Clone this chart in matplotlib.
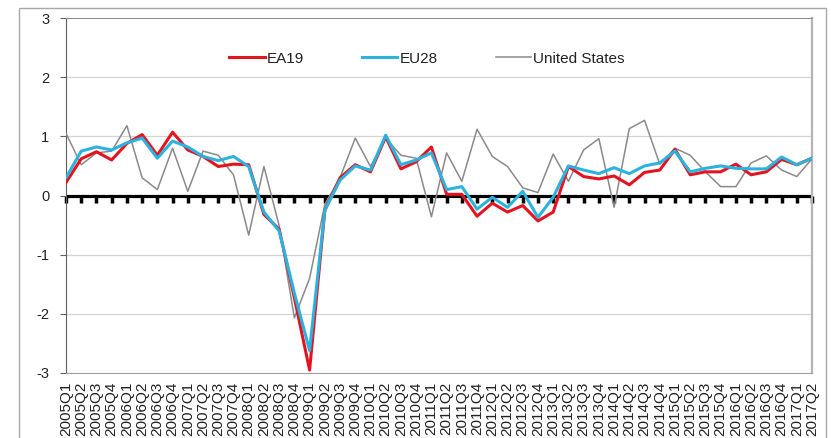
import numpy as np
import matplotlib
matplotlib.use('Agg')
import matplotlib.pyplot as plt
from matplotlib.patches import Rectangle

plt.rcParams['font.family'] = ['Liberation Sans', 'DejaVu Sans']

# quarters 2005Q1 .. 2017Q2
quarters = ['{}Q{}'.format(y, q) for y in range(2005, 2018) for q in range(1, 5)][:50]

ea19 = [0.22, 0.62, 0.74, 0.60, 0.88, 1.03, 0.68, 1.07, 0.77, 0.66,
        0.49, 0.53, 0.52, -0.32, -0.57, -1.73, -2.95, -0.25, 0.30, 0.52,
        0.40, 0.99, 0.45, 0.57, 0.82, 0.02, 0.02, -0.35, -0.13, -0.28,
        -0.17, -0.43, -0.28, 0.49, 0.32, 0.28, 0.33, 0.18, 0.39, 0.43,
        0.78, 0.35, 0.40, 0.40, 0.53, 0.35, 0.40, 0.61, 0.52, 0.63]

eu28 = [0.30, 0.75, 0.82, 0.77, 0.89, 0.97, 0.63, 0.92, 0.82, 0.66,
        0.59, 0.66, 0.49, -0.28, -0.60, -1.65, -2.62, -0.25, 0.26, 0.50,
        0.43, 1.02, 0.52, 0.60, 0.72, 0.10, 0.15, -0.23, -0.03, -0.20,
        0.07, -0.37, -0.03, 0.50, 0.43, 0.37, 0.47, 0.37, 0.50, 0.55,
        0.75, 0.40, 0.46, 0.50, 0.46, 0.45, 0.45, 0.65, 0.52, 0.63]

us = [1.05, 0.52, 0.72, 0.75, 1.18, 0.30, 0.10, 0.80, 0.07, 0.75,
      0.68, 0.35, -0.67, 0.49, -0.51, -2.07, -1.40, -0.15, 0.30, 0.97,
      0.49, 0.97, 0.68, 0.63, -0.36, 0.72, 0.24, 1.12, 0.66, 0.49,
      0.13, 0.05, 0.70, 0.24, 0.77, 0.96, -0.20, 1.13, 1.27, 0.53,
      0.80, 0.68, 0.40, 0.15, 0.15, 0.55, 0.67, 0.43, 0.32, 0.62]

x = np.arange(len(quarters))

fig = plt.figure(figsize=(8.31, 4.38), dpi=100)
ax = fig.add_axes([66/831, 1-373/438, (812-66)/831, (373-18)/438])

# outer chart frame
fig.patches.append(Rectangle((19/831, -0.05), (826-19)/831, 1.05 - 8/438,
                             transform=fig.transFigure, fill=False,
                             edgecolor='#a8a8a8', linewidth=1.0))

ax.plot(x, ea19, color='#e3141f', linewidth=2.2, label='EA19', zorder=4)
ax.plot(x, eu28, color='#2bb2de', linewidth=2.2, label='EU28', zorder=5)
ax.plot(x, us, color='#8a8a8a', linewidth=1.1, label='United States', zorder=3)

ax.set_xlim(0, len(quarters)-1)
ax.set_ylim(-3, 3)
ax.set_yticks([-3, -2, -1, 0, 1, 2, 3])
ax.set_yticklabels(['-3', '-2', '-1', '0', '1', '2', '3'], fontsize=10.5, color='#222222')
ax.tick_params(axis='y', direction='out', length=4, color='#606060', pad=8)
for v in [-2, -1, 1, 2]:
    ax.axhline(v, color='#d4d4d4', linewidth=0.9, zorder=1)
ax.axhline(0, color='black', linewidth=2.3, zorder=2)

ax.set_xticks(x)
ax.set_xticklabels(quarters, rotation=90, fontsize=11, color='#222222')
ax.tick_params(axis='x', length=0, pad=6)

ax.spines['left'].set_color('#606060')
ax.spines['bottom'].set_color('#a0a0a0')
ax.spines['top'].set_color('#909090')
ax.spines['right'].set_color('#b4b4b4')
ax.spines['right'].set_linewidth(1.6)

# zero axis with category tick marks
zax = ax.secondary_xaxis(0.5)
zax.set_xticks(x)
zax.set_xticklabels([''] * len(x))
zax.xaxis.set_ticks_position('bottom')
zax.tick_params(axis='x', direction='out', length=5, width=2.5, color='black',
                bottom=True, top=False, labelbottom=False, labeltop=False)
for sp in zax.spines.values():
    sp.set_visible(False)

leg = ax.legend(loc='center', bbox_to_anchor=(0.484, 0.885), ncol=3, frameon=False,
                fontsize=11, handlelength=2.3, handletextpad=0.15, columnspacing=3.8)
for t in leg.get_texts():
    t.set_color('#222222')

fig.savefig('out.png', dpi=100)
